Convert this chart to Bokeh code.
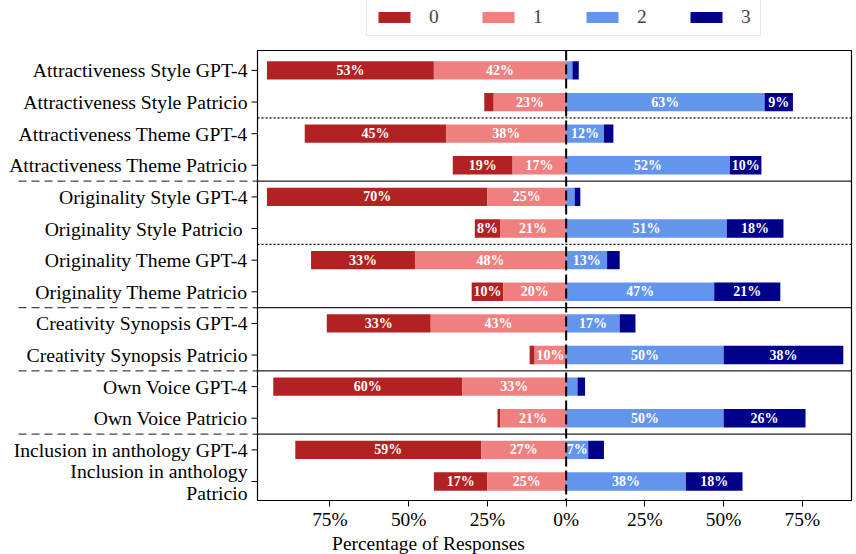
import numpy as np
from bokeh.plotting import figure
from bokeh.models import Range1d, FixedTicker, Legend, LegendItem, ColumnDataSource
from bokeh.embed import file_html
from bokeh.resources import INLINE
from bokeh.core.properties import value

# ---------------- data ----------------
categories = [
    "Attractiveness Style GPT-4",
    "Attractiveness Style Patricio",
    "Attractiveness Theme GPT-4",
    "Attractiveness Theme Patricio",
    "Originality Style GPT-4",
    "Originality Style Patricio ",
    "Originality Theme GPT-4",
    "Originality Theme Patricio",
    "Creativity Synopsis GPT-4",
    "Creativity Synopsis Patricio",
    "Own Voice GPT-4",
    "Own Voice Patricio",
    "Inclusion in anthology GPT-4",
    "Inclusion in anthology\nPatricio",
]
score_0 = [53, 3, 45, 19, 70, 8, 33, 10, 33, 1.6, 60, 0.8, 59, 17]
score_1 = [42, 23, 38, 17, 25, 21, 48, 20, 43, 10, 33, 21, 27, 25]
score_2 = [2, 63, 12, 52, 2.7, 51, 13, 47, 17, 50, 3.6, 50, 7, 38]
score_3 = [2, 9, 3, 10, 1.8, 18, 4, 21, 5, 38, 2.4, 26, 5, 18]
levels = ["0", "1", "2", "3"]
colors = ["#b22222", "#f08080", "#6495ed", "#00008b"]
x_ticks = [-75, -50, -25, 0, 25, 50, 75]
x_tick_labels = ["75%", "50%", "25%", "0%", "25%", "50%", "75%"]
dotted_after = [1.5, 5.5]
solid_after = [3.5, 7.5, 9.5, 11.5]

FONT = "Liberation Serif"

# ---------------- layout constants (pixels) ----------------
FRAME_W, FRAME_H = 856, 501
BOX_L_PX, BOX_R_PX = 257, 851      # plot box inside the frame
BOX_T_PX, BOX_B_PX = 50, 500
X_LO, X_HI = -98.0, 90.6            # data limits of the plot box
Y_TOP, Y_BOT = -0.63, 13.6

sx = (BOX_R_PX - BOX_L_PX) / (X_HI - X_LO)
sy = (BOX_B_PX - BOX_T_PX) / (Y_BOT - Y_TOP)
x_start = X_LO - BOX_L_PX / sx
x_end = X_HI + (FRAME_W - BOX_R_PX) / sx
y_end = Y_TOP - BOX_T_PX / sy
y_start = Y_BOT + (FRAME_H - BOX_B_PX) / sy

p = figure(frame_width=FRAME_W, frame_height=FRAME_H,
           x_range=Range1d(x_start, x_end), y_range=Range1d(y_start, y_end),
           y_axis_location=None, toolbar_location=None, output_backend="svg",
           min_border_left=0, min_border_right=0, min_border_top=0, min_border_bottom=0)
p.outline_line_color = None
p.xgrid.visible = False
p.ygrid.visible = False
p.background_fill_color = "white"
p.border_fill_color = "white"

n = len(categories)
ys = np.arange(n)
s0, s1, s2, s3 = (np.array(a, dtype=float) for a in (score_0, score_1, score_2, score_3))
bounds = [(-(s0 + s1), -s1), (-s1, np.zeros(n)), (np.zeros(n), s2), (s2, s2 + s3)]
vals = [s0, s1, s2, s3]

renderers = []
for k, (l, r) in enumerate(bounds):
    src = ColumnDataSource(dict(y=ys, left=l, right=r))
    rend = p.hbar(y="y", left="left", right="right", height=0.58, source=src,
                  fill_color=colors[k], line_color=None)
    renderers.append(rend)

for k, (l, r) in enumerate(bounds):
    mask = vals[k] >= 6.5
    cx = ((l + r) / 2)[mask]
    txt = [f"{int(round(v))}%" for v in vals[k][mask]]
    p.text(x=cx, y=ys[mask], text=txt, text_color="white", text_font=value(FONT),
           text_font_style="bold", text_font_size="14px",
           text_align="center", text_baseline="middle")

# separators inside the plot
p.segment(x0=[X_LO] * len(dotted_after), x1=[X_HI] * len(dotted_after),
          y0=dotted_after, y1=dotted_after, line_color="black", line_width=1.3, line_dash="2 2")
p.segment(x0=[X_LO] * len(solid_after), x1=[X_HI] * len(solid_after),
          y0=solid_after, y1=solid_after, line_color="#222222", line_width=1.3)
# dashed separators in the label area
dash_x0 = X_LO - (BOX_L_PX - 18) / sx
p.segment(x0=[dash_x0] * len(solid_after), x1=[X_LO] * len(solid_after),
          y0=solid_after, y1=solid_after, line_color="#444444", line_width=1.3, line_dash="8 5")

# zero line
p.segment(x0=[0], x1=[0], y0=[Y_TOP], y1=[Y_BOT], line_color="black", line_width=2, line_dash="10 4")

# plot box
p.quad(left=[X_LO], right=[X_HI], top=[Y_TOP], bottom=[Y_BOT],
       fill_color=None, line_color="black", line_width=1.2)

# y ticks and category labels
tick_x0 = X_LO - 6 / sx
p.segment(x0=[tick_x0] * n, x1=[X_LO] * n, y0=ys, y1=ys, line_color="black", line_width=1)
label_x = X_LO - 10 / sx
p.text(x=[label_x] * n, y=ys, text=categories, text_align="right", text_baseline="middle",
       text_font=value(FONT), text_font_size="19.7px", text_color="black",
       text_line_height=1.0)

# x axis
ax = p.xaxis[0]
ax.ticker = FixedTicker(ticks=x_ticks)
ax.major_label_overrides = dict(zip(x_ticks, x_tick_labels))
ax.axis_label = "Percentage of Responses"
ax.axis_label_text_font = FONT
ax.axis_label_text_font_style = "normal"
ax.axis_label_text_font_size = "19.4px"
ax.axis_label_text_color = "black"
ax.major_label_text_font = FONT
ax.major_label_text_font_size = "19.4px"
ax.major_label_text_color = "black"
ax.axis_line_color = None
ax.major_tick_out = 5
ax.major_tick_in = 1
ax.major_tick_line_color = "black"
ax.minor_tick_line_color = None
ax.major_label_standoff = 2
ax.axis_label_standoff = 0

# legend
legend = Legend(items=[LegendItem(label=levels[k], renderers=[renderers[k]]) for k in range(4)],
                orientation="horizontal", location=(366, FRAME_H - 36),
                glyph_width=40, glyph_height=14, label_standoff=15, label_width=12,
                label_height=19, spacing=37, padding=7, margin=0,
                label_text_font=FONT, label_text_font_size="19.4px",
                border_line_color="#d0d0d0", border_line_width=1.2,
                background_fill_color="white", background_fill_alpha=1.0)
p.add_layout(legend)

open("out.html", "w").write(file_html(p, INLINE))
